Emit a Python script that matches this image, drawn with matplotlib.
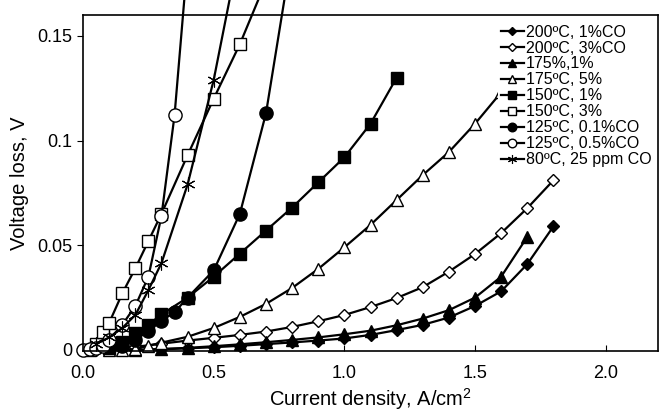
"""Voltage loss vs current density for several temperatures / CO levels."""

import matplotlib
matplotlib.use("Agg")
import matplotlib.pyplot as plt

plt.rcParams["font.family"] = ["Liberation Sans", "DejaVu Sans"]
plt.rcParams["mathtext.fontset"] = "custom"
plt.rcParams["mathtext.rm"] = "Liberation Sans"

# 200 C, 1% CO
x_200_1 = [0.2, 0.3, 0.4, 0.5, 0.6, 0.7, 0.8, 0.9, 1.0, 1.1, 1.2, 1.3, 1.4, 1.5, 1.6, 1.7, 1.8]
v_200_1 = [0.0, 0.0003, 0.0008, 0.0013, 0.002, 0.0028, 0.0036, 0.0045, 0.0055, 0.0072,
           0.0095, 0.012, 0.0155, 0.021, 0.028, 0.041, 0.059]

# 200 C, 3% CO
x_200_3 = [0.05, 0.1, 0.2, 0.3, 0.4, 0.5, 0.6, 0.7, 0.8, 0.9, 1.0, 1.1, 1.2, 1.3, 1.4, 1.5, 1.6, 1.7, 1.8]
v_200_3 = [0.0, 0.0005, 0.0015, 0.003, 0.0045, 0.0058, 0.0072, 0.0088, 0.011, 0.0137, 0.0167,
           0.0205, 0.0248, 0.030, 0.0374, 0.0458, 0.0558, 0.0677, 0.081]

# 175 C, 1%
x_175_1 = [0.2, 0.3, 0.4, 0.5, 0.6, 0.7, 0.8, 0.9, 1.0, 1.1, 1.2, 1.3, 1.4, 1.5, 1.6, 1.7]
v_175_1 = [0.0, 0.0005, 0.001, 0.0018, 0.0027, 0.0037, 0.0048, 0.006, 0.0075, 0.0092,
           0.0118, 0.015, 0.019, 0.025, 0.035, 0.054]

# 175 C, 5%
x_175_5 = [0.1, 0.15, 0.2, 0.25, 0.3, 0.4, 0.5, 0.6, 0.7, 0.8, 0.9, 1.0, 1.1, 1.2, 1.3, 1.4, 1.5, 1.6]
v_175_5 = [0.0, 0.0, 0.0005, 0.002, 0.0035, 0.0063, 0.0105, 0.0158, 0.022, 0.0296, 0.0387,
           0.049, 0.0597, 0.0716, 0.0835, 0.0945, 0.108, 0.123]

# 150 C, 1%
x_150_1 = [0.1, 0.15, 0.2, 0.25, 0.3, 0.4, 0.5, 0.6, 0.7, 0.8, 0.9, 1.0, 1.1, 1.2]
v_150_1 = [0.001, 0.004, 0.008, 0.012, 0.017, 0.025, 0.035, 0.046, 0.057, 0.068, 0.080,
           0.092, 0.108, 0.130]

# 150 C, 3%
x_150_3 = [0.025, 0.05, 0.075, 0.1, 0.15, 0.2, 0.25, 0.3, 0.4, 0.5, 0.6, 0.7]
v_150_3 = [0.0, 0.003, 0.0086, 0.013, 0.027, 0.039, 0.052, 0.065, 0.093, 0.120, 0.146, 0.176]

# 125 C, 0.1% CO
x_125_01 = [0.15, 0.2, 0.25, 0.3, 0.35, 0.4, 0.5, 0.6, 0.7, 0.8]
v_125_01 = [0.002, 0.005, 0.009, 0.014, 0.018, 0.025, 0.038, 0.065, 0.113, 0.19]

# 125 C, 0.5% CO
x_125_05 = [0.0, 0.025, 0.05, 0.075, 0.1, 0.15, 0.2, 0.25, 0.3, 0.35, 0.4]
v_125_05 = [0.0, 0.0005, 0.001, 0.002, 0.005, 0.012, 0.021, 0.035, 0.064, 0.112, 0.186]

# 80 C, 25 ppm CO
x_80 = [0.05, 0.1, 0.15, 0.2, 0.25, 0.3, 0.4, 0.5, 0.6]
v_80 = [0.003, 0.006, 0.0105, 0.0167, 0.0286, 0.0415, 0.079, 0.129, 0.192]

labels = [
    "200ºC, 1%CO", "200ºC, 3%CO", "175%,1%", "175ºC, 5%", "150ºC, 1%",
    "150ºC, 3%", "125ºC, 0.1%CO", "125ºC, 0.5%CO", "80ºC, 25 ppm CO",
]

series = [
    (x_200_1, v_200_1, "D", "black", 6.5, 1.0),
    (x_200_3, v_200_3, "D", "white", 6.5, 1.0),
    (x_175_1, v_175_1, "^", "black", 9, 1.0),
    (x_175_5, v_175_5, "^", "white", 9, 1.0),
    (x_150_1, v_150_1, "s", "black", 9, 1.0),
    (x_150_3, v_150_3, "s", "white", 9, 1.0),
    (x_125_01, v_125_01, "o", "black", 9.5, 1.0),
    (x_125_05, v_125_05, "o", "white", 9.5, 1.0),
    (x_80, v_80, (6, 2, 0), "black", 10, 0.8),
]

fig = plt.figure(figsize=(6.7, 4.12), dpi=100)
ax = fig.add_axes([0.124, 0.148, 0.858, 0.816])

for (x, v, marker, face, ms, mew), label in zip(series, labels):
    ax.plot(x, v, color="black", lw=1.6, marker=marker, markersize=ms,
            markerfacecolor=face, markeredgecolor="black", markeredgewidth=mew,
            label=label, clip_on=False)

ax.set_xlim(0, 2.2)
ax.set_ylim(-0.0005, 0.16)
ax.set_xticks([0.0, 0.5, 1.0, 1.5, 2.0])
ax.set_xticklabels(["0.0", "0.5", "1.0", "1.5", "2.0"])
ax.set_yticks([0, 0.05, 0.1, 0.15])
ax.set_yticklabels(["0", "0.05", "0.1", "0.15"])
ax.tick_params(axis="x", direction="in", length=4, labelsize=13, pad=10)
ax.tick_params(axis="y", direction="out", length=4, labelsize=13)
for s in ax.spines.values():
    s.set_linewidth(1.2)

ax.set_xlabel("Current density, A/cm$^{2}$", fontsize=14.5, labelpad=3)
ax.set_ylabel("Voltage loss, V", fontsize=14.5, labelpad=6)

leg = ax.legend(loc="upper right", bbox_to_anchor=(1.0, 0.99), fontsize=11.5,
                handlelength=1.4, handletextpad=0.15, labelspacing=0.06,
                markerscale=0.65, frameon=True, fancybox=False, framealpha=1,
                borderaxespad=0.2, borderpad=0.2)
leg.get_frame().set_edgecolor("none")

fig.savefig("out.png", dpi=100)
plt.close(fig)
